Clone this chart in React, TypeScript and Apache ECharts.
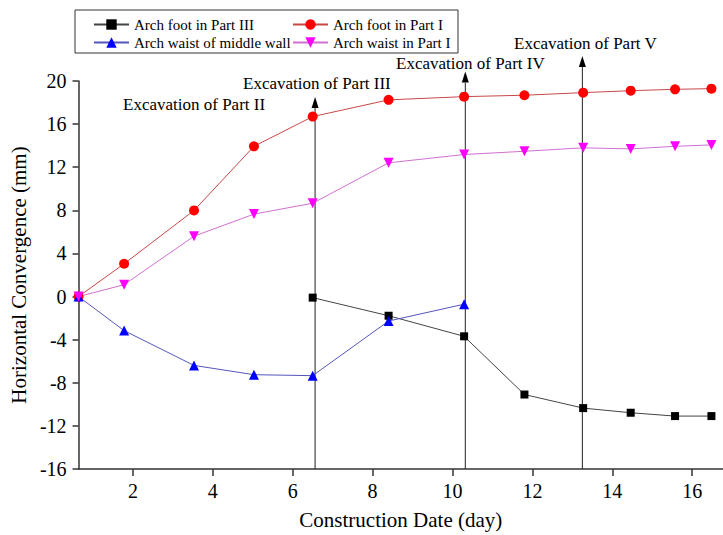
import React, { useEffect, useRef } from 'react';
import * as echarts from 'echarts';

const days = [0.64, 1.78, 3.53, 5.03, 6.5, 8.4, 10.29, 11.8, 13.27, 14.46, 15.57, 16.48];
const archFootPartIII = [null, null, null, null, -0.1, -1.78, -3.69, -9.09, -10.35, -10.78, -11.09, -11.09];
const archFootPartI = [0, 3.04, 7.99, 13.94, 16.7, 18.25, 18.55, 18.68, 18.92, 19.1, 19.23, 19.29];
const archWaistMiddleWall = [0, -3.16, -6.39, -7.25, -7.34, -2.27, -0.71, null, null, null, null, null];
const archWaistPartI = [0, 1.1, 5.6, 7.65, 8.66, 12.41, 13.18, 13.48, 13.8, 13.7, 13.94, 14.07];
const xTicks = [2, 4, 6, 8, 10, 12, 14, 16];
const excavationDays = [6.56, 10.32, 13.25];
const arrowTops = [17.5, 19.85, 21.3];

const FONT = 'Liberation Serif';

function pairs(vals: (number | null)[]) {
  const out: number[][] = [];
  vals.forEach((v, i) => {
    if (v !== null) out.push([days[i], v]);
  });
  return out;
}

export default function App() {
  const ref = useRef<HTMLDivElement>(null);
  useEffect(() => {
    document.body.style.margin = '0';
    const chart = echarts.init(ref.current!, null, { renderer: 'svg' });
    const mk = (name: string, vals: (number | null)[], symbol: string, size: number, mColor: string, lColor: string, rotate = 0) => ({
      name,
      type: 'line',
      data: pairs(vals),
      symbol,
      symbolSize: size,
      symbolRotate: rotate,
      showSymbol: true,
      color: mColor,
      itemStyle: { color: mColor },
      lineStyle: { color: lColor, width: 1 },
      z: 3,
    });
    const arrows = excavationDays.map((d, i) => ({
      name: 'arrow' + i,
      type: 'line',
      clip: false,
      silent: true,
      symbol: 'triangle',
      symbolSize: [7, 11],
      symbolOffset: [0, '-50%'],
      lineStyle: { color: '#222', width: 1 },
      itemStyle: { color: '#000' },
      z: 2,
      data: [{ value: [d, -16], symbol: 'none' }, { value: [d, arrowTops[i]] }],
    }));
    const legendBase = {
      orient: 'vertical',
      top: 17,
      itemWidth: 35,
      itemHeight: 13,
      itemGap: 3,
      padding: 0,
      selectedMode: false,
      textStyle: { fontFamily: FONT, fontSize: 15, color: '#000' },
    };
    chart.setOption({
      animation: false,
      textStyle: { fontFamily: FONT },
      grid: { left: 74, top: 81, width: 649, height: 391 },
      legend: [
        { ...legendBase, left: 93, data: ['Arch foot in Part III', 'Arch waist of middle wall'] },
        { ...legendBase, left: 292, data: ['Arch foot in Part I', 'Arch waist in Part I'] },
      ],
      xAxis: {
        type: 'value',
        min: 0.64,
        max: 16.77,
        name: 'Construction Date (day)',
        nameLocation: 'middle',
        nameGap: 40,
        nameTextStyle: { fontFamily: FONT, fontSize: 21, color: '#000' },
        axisLine: { onZero: false, lineStyle: { color: '#333', width: 1.5 } },
        axisTick: { show: true, length: 7, customValues: xTicks, lineStyle: { color: '#333', width: 1.5 } },
        axisLabel: { customValues: xTicks, margin: 12, fontFamily: FONT, fontSize: 20, color: '#000' },
        splitLine: { show: false },
      },
      yAxis: {
        type: 'value',
        min: -16,
        max: 20,
        interval: 4,
        name: 'Horizontal Convergence (mm)',
        nameLocation: 'middle',
        nameGap: 45,
        nameTextStyle: { fontFamily: FONT, fontSize: 21, color: '#000' },
        axisLine: { show: true, onZero: false, lineStyle: { color: '#333', width: 1.5 } },
        axisTick: { show: true, length: 6, lineStyle: { color: '#333', width: 1.5 } },
        axisLabel: { margin: 12, fontFamily: FONT, fontSize: 20, color: '#000' },
        splitLine: { show: false },
      },
      graphic: [
        { type: 'rect', shape: { x: 75, y: 10, width: 383, height: 43 }, style: { fill: 'none', stroke: '#333', lineWidth: 1 } },
        { type: 'text', x: 123, y: 104, style: { text: 'Excavation of Part II', font: `17px ${FONT}`, fill: '#000', verticalAlign: 'middle' } },
        { type: 'text', x: 243, y: 83, style: { text: 'Excavation of Part III', font: `17px ${FONT}`, fill: '#000', verticalAlign: 'middle' } },
        { type: 'text', x: 396, y: 63, style: { text: 'Excavation of Part IV', font: `17px ${FONT}`, fill: '#000', verticalAlign: 'middle' } },
        { type: 'text', x: 514, y: 43, style: { text: 'Excavation of Part V', font: `17px ${FONT}`, fill: '#000', verticalAlign: 'middle' } },
      ],
      series: [
        ...arrows,
        mk('Arch foot in Part III', archFootPartIII, 'rect', 8, '#000000', '#444444'),
        mk('Arch foot in Part I', archFootPartI, 'circle', 10, '#ff0000', '#c84848'),
        mk('Arch waist of middle wall', archWaistMiddleWall, 'triangle', 10, '#0000ff', '#5555bb'),
        mk('Arch waist in Part I', archWaistPartI, 'triangle', 10, '#ff00ff', '#d070d0', 180),
      ],
    });
    return () => chart.dispose();
  }, []);
  return <div ref={ref} style={{ width: 723, height: 535 }} />;
}
